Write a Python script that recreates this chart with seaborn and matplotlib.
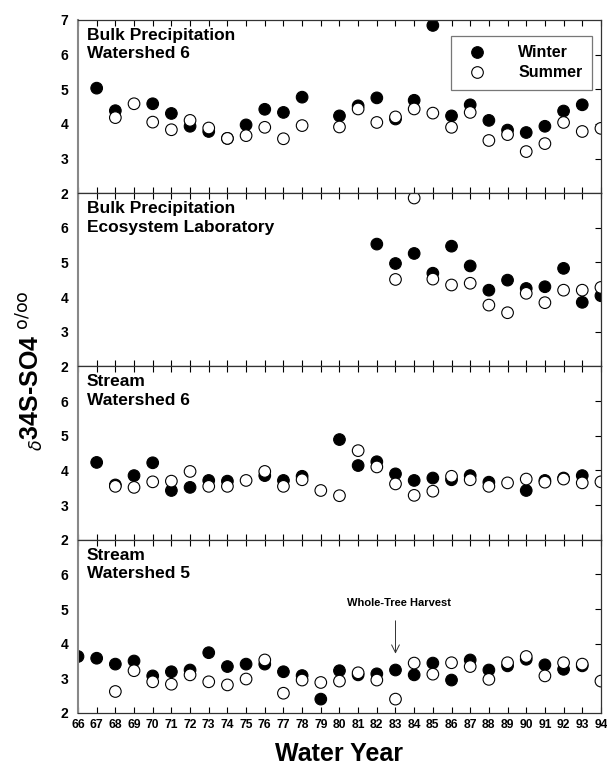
import numpy as np
import pandas as pd
import seaborn as sns
import matplotlib.pyplot as plt

# water years (19xx), shared by every panel
years = list(range(66, 95))
nan = np.nan

# Bulk precipitation, Watershed 6
bp_w6_winter = [nan, 5.03, 4.38, nan, 4.58, 4.30, 3.93, 3.78, 3.58, 3.97, 4.42, 4.33, 4.77, nan,
                4.23, 4.52, 4.75, 4.14, 4.68, 6.84, 4.23, 4.55, 4.10, 3.82, 3.75, 3.93, 4.37, 4.55, nan]
bp_w6_summer = [nan, nan, 4.18, 4.58, 4.05, 3.83, 4.10, 3.88, 3.58, 3.66, 3.90, 3.57, 3.95, nan,
                3.91, 4.43, 4.04, 4.20, 4.43, 4.31, 3.90, 4.33, 3.52, 3.69, 3.20, 3.43, 4.04, 3.78, 3.87]

# Bulk precipitation, Ecosystem Laboratory (only from 82 on)
bp_el_winter = [nan] * 16 + [5.53, 4.97, 5.26, 4.69, 5.47, 4.90, 4.20, 4.49, 4.25, 4.30, 4.83, 3.85, 4.04]
bp_el_summer = [nan] * 16 + [nan, 4.51, 6.86, 4.52, 4.35, 4.40, 3.77, 3.55, 4.11, 3.84, 4.20, 4.20, 4.28]

# Stream, Watershed 6
st_w6_winter = [nan, 4.23, 3.58, 3.85, 4.22, 3.42, 3.51, 3.71, 3.69, nan, 3.85, 3.71, 3.83, nan,
                4.89, 4.14, 4.25, 3.90, 3.71, 3.78, 3.73, 3.85, 3.66, nan, 3.42, 3.71, 3.78, 3.85, nan]
st_w6_summer = [nan, nan, 3.54, 3.51, 3.67, 3.69, 3.97, 3.54, 3.54, 3.71, 3.97, 3.54, 3.73, 3.42,
                3.27, 4.57, 4.10, 3.61, 3.28, 3.40, 3.83, 3.73, 3.54, 3.64, 3.75, 3.66, 3.75, 3.64, 3.67]

# Stream, Watershed 5
st_w5_winter = [3.63, 3.58, 3.41, 3.50, 3.07, 3.19, 3.24, 3.74, 3.34, 3.41, 3.41, 3.19, 3.08, 2.40,
                3.22, 3.10, 3.13, 3.24, 3.10, 3.44, 2.95, 3.53, 3.24, 3.36, 3.55, 3.39, 3.26, 3.36, nan]
st_w5_summer = [nan, nan, 2.62, 3.22, 2.90, 2.83, 3.10, 2.90, 2.81, 2.98, 3.53, 2.57, 2.95, 2.88,
                2.92, 3.16, 2.95, 2.40, 3.44, 3.12, 3.45, 3.34, 2.97, 3.45, 3.63, 3.07, 3.45, 3.41, 2.92]

panel_titles = ["Bulk Precipitation\nWatershed 6",
                "Bulk Precipitation\nEcosystem Laboratory",
                "Stream\nWatershed 6",
                "Stream\nWatershed 5"]
panel_data = [(bp_w6_winter, bp_w6_summer), (bp_el_winter, bp_el_summer),
              (st_w6_winter, st_w6_summer), (st_w5_winter, st_w5_summer)]

sns.set_style('white')
plt.rcParams['font.family'] = ['Liberation Sans', 'DejaVu Sans']
plt.rcParams.update({'text.color': 'black', 'axes.labelcolor': 'black',
                     'xtick.color': 'black', 'ytick.color': 'black'})

fig, axes = plt.subplots(4, 1, sharex=True, figsize=(6.07, 7.65), dpi=100)
fig.subplots_adjust(left=0.1285, right=0.99, top=0.974, bottom=0.068, hspace=0)

palette = {'Winter': 'black', 'Summer': 'white'}

for i, (ax, title, (w, s)) in enumerate(zip(axes, panel_titles, panel_data)):
    # winter rows first so summer circles sit on top
    df = pd.concat([
        pd.DataFrame({'year': years, 'd34S': w, 'season': 'Winter'}),
        pd.DataFrame({'year': years, 'd34S': s, 'season': 'Summer'}),
    ]).dropna()
    sns.scatterplot(data=df, x='year', y='d34S', hue='season', palette=palette,
                    edgecolor='black', linewidth=0.8, s=70, ax=ax, legend=(i == 0))

    ax.set_xlim(66, 94)
    ax.set_ylim(2, 7)
    ax.set_yticks([2, 3, 4, 5, 6, 7])
    if i == 0:
        ax.set_yticklabels(['2', '3', '4', '5', '6', '7'])
    else:
        ax.set_yticklabels(['2', '3', '4', '5', '6', ''])
    ax.set_xticks(years)
    ax.set_xlabel('')
    ax.set_ylabel('')
    for lab in ax.get_yticklabels():
        lab.set_fontweight('bold')
    ax.tick_params(axis='y', direction='out', length=4, width=0.8, labelsize=10, pad=3)
    ax.tick_params(axis='x', direction='in', length=4, width=0.8, top=True, bottom=True,
                   labelsize=8.7, pad=4)
    sec = ax.secondary_yaxis('right')
    sec.set_yticks([3, 4, 5, 6])
    sec.tick_params(direction='in', length=4, width=0.8, labelright=False)
    sec.spines['right'].set_visible(False)

    for sp in ax.spines.values():
        sp.set_color('#333333')
        sp.set_linewidth(0.9)
    ax.spines['left'].set_color('#888888')
    ax.spines['left'].set_linewidth(1.5)

    ax.text(0.017, 0.955, title, transform=ax.transAxes, ha='left', va='top',
            fontsize=12.5, fontweight='bold', linespacing=1.3)

# legend on the top panel
handles, labels = axes[0].get_legend_handles_labels()
for h in handles:
    h.set_markeredgecolor('black')
leg = axes[0].legend(handles, labels, loc='upper right', bbox_to_anchor=(0.983, 0.908),
                     frameon=True, fancybox=False, edgecolor='#555555',
                     prop={'weight': 'bold', 'size': 11.5}, handletextpad=1.6,
                     borderpad=0.6, labelspacing=0.3, borderaxespad=0, markerscale=1.0)
leg.get_frame().set_linewidth(0.9)

for lab in axes[-1].get_xticklabels():
    lab.set_fontweight('bold')

# harvest marker on the stream watershed 5 panel
ax = axes[-1]
ax.text(83.2, 5.17, 'Whole-Tree Harvest', ha='center', va='center', fontsize=8, fontweight='bold')
ax.annotate('', xy=(83, 3.63), xytext=(83, 4.74),
            arrowprops=dict(arrowstyle='->', lw=0.7, color='#333333', mutation_scale=14))

ax.set_xlabel('Water Year', fontsize=18, fontweight='bold', labelpad=8)

fig.text(0.05, 0.516, r'$_{\delta}$34S-SO4 $^{\rm o/oo}$', rotation=90, ha='center', va='center',
         fontsize=18, fontweight='bold')

plt.savefig('out.png', dpi=100)
